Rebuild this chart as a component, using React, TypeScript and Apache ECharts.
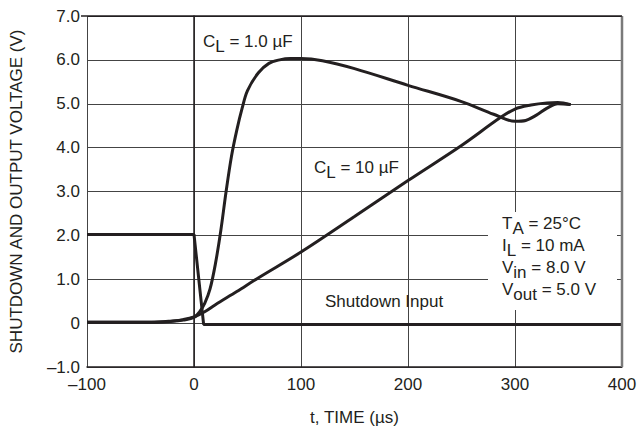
import React, { useEffect, useRef } from "react";
import * as echarts from "echarts";

// ---- data ----
const xTicks = [-100, 0, 100, 200, 300, 400];
const xTickLabels = ["–100", "0", "100", "200", "300", "400"];
const yTicks = [-1, 0, 1, 2, 3, 4, 5, 6, 7];
const yTickLabels = ["–1.0", "0", "1.0", "2.0", "3.0", "4.0", "5.0", "6.0", "7.0"];

const cl1Time = [-100, -40, -20, -10, 0, 5, 10, 15, 20, 25, 30, 35, 40, 45, 50, 60, 70, 80, 90, 100, 120, 150, 200, 250, 280, 300, 310, 320, 330, 340, 352];
const cl1Volt = [0.02, 0.02, 0.04, 0.07, 0.13, 0.25, 0.45, 0.78, 1.35, 2.1, 3.0, 3.8, 4.4, 4.9, 5.3, 5.7, 5.92, 6.0, 6.03, 6.03, 5.98, 5.8, 5.42, 5.05, 4.76, 4.6, 4.62, 4.74, 4.9, 5.0, 4.98];

const cl10Time = [-100, -40, -20, -10, 0, 10, 20, 40, 60, 100, 150, 200, 250, 286, 300, 315, 330, 340, 352];
const cl10Volt = [0.02, 0.02, 0.05, 0.08, 0.14, 0.26, 0.42, 0.72, 1.03, 1.62, 2.43, 3.25, 4.05, 4.68, 4.88, 4.97, 5.02, 5.03, 4.98];

const sdTime = [-100, 0, 9, 400];
const sdVolt = [2.02, 2.02, -0.03, -0.03];

const FONT = "'Liberation Sans', Arial, Helvetica, sans-serif";
const FS = 17;
const INK = "#231f20";
const GRID = { left: 81, top: 16, right: 20, bottom: 68 };
const W = 642;
const H = 435;

const zip = (a: number[], b: number[]) => a.map((t, i) => [t, b[i]]);

const rich = {
  n: { fontFamily: FONT, fontSize: FS, lineHeight: 15, verticalAlign: "top", fill: INK, color: INK },
  s: { fontFamily: FONT, fontSize: FS, lineHeight: 15, padding: [5, 0, 0, 0], verticalAlign: "top", fill: INK, color: INK },
};

function label(x: number, y: number, parts: [string, boolean][]) {
  return {
    type: "text",
    x,
    y,
    z: 10,
    style: {
      text: parts.map(([t, sub]) => `{${sub ? "s" : "n"}|${t}}`).join(""),
      rich,
      fill: INK,
      font: `${FS}px ${FONT}`,
    },
  };
}

export default function App() {
  const ref = useRef<HTMLDivElement>(null);
  useEffect(() => {
    if (!ref.current) return;
    const chart = echarts.init(ref.current, undefined, { renderer: "svg" });
    const lineStyle = { color: INK, width: 3 };
    const option: any = {
      animation: false,
      backgroundColor: "#fff",
      grid: { ...GRID, containLabel: false },
      xAxis: {
        type: "value",
        min: -100,
        max: 400,
        interval: 100,
        name: "t, TIME (µs)",
        nameLocation: "middle",
        nameGap: 42,
        nameTextStyle: { fontFamily: FONT, fontSize: FS, color: INK },
        axisLine: { show: true, onZero: false, lineStyle: { color: INK, width: 1.5 } },
        axisTick: { show: false },
        axisLabel: {
          fontFamily: FONT,
          fontSize: FS,
          color: INK,
          margin: 9,
          formatter: (v: number) => xTickLabels[xTicks.indexOf(v)] ?? "",
        },
        splitLine: { show: true, lineStyle: { color: ["#444", "#444", "#444", "#444", "#444", "#fff"], width: 1 } },
      },
      yAxis: {
        type: "value",
        min: -1,
        max: 7,
        interval: 1,
        name: "SHUTDOWN AND OUTPUT VOLTAGE (V)",
        nameLocation: "middle",
        nameGap: 62,
        nameTextStyle: { fontFamily: FONT, fontSize: FS, color: INK },
        axisLine: { show: true, lineStyle: { color: INK, width: 1.5 } },
        axisTick: { show: false },
        axisLabel: {
          fontFamily: FONT,
          fontSize: FS,
          color: INK,
          margin: 7,
          formatter: (v: number) => yTickLabels[yTicks.indexOf(v)] ?? "",
        },
        splitLine: {
          show: true,
          lineStyle: { color: ["#444", "#444", "#444", "#444", "#444", "#444", "#444", "#444", INK], width: 1 },
        },
      },
      series: [
        { name: "CL = 1.0 µF", type: "line", data: zip(cl1Time, cl1Volt), smooth: 0.35, showSymbol: false, lineStyle, z: 3 },
        { name: "CL = 10 µF", type: "line", data: zip(cl10Time, cl10Volt), smooth: 0.35, showSymbol: false, lineStyle, z: 3 },
        { name: "Shutdown Input", type: "line", data: zip(sdTime, sdVolt), smooth: false, showSymbol: false, lineStyle, z: 3 },
      ],
      graphic: [
        {
          type: "line",
          z: 5,
          shape: { x1: W - GRID.right, y1: GRID.top, x2: W - GRID.right, y2: H - GRID.bottom },
          style: { stroke: "#7a7a7a", lineWidth: 2.5 },
        },
        {
          type: "line",
          z: 5,
          shape: { x1: GRID.left, y1: GRID.top, x2: W - GRID.right, y2: GRID.top },
          style: { stroke: INK, lineWidth: 1.5 },
        },
        {
          type: "rect",
          z: 1,
          shape: { x: 488, y: 212, width: 129, height: 98 },
          style: { fill: "#fff" },
        },
        label(203, 33, [["C", false], ["L", true], [" = 1.0 µF", false]]),
        label(314, 159, [["C", false], ["L", true], [" = 10 µF", false]]),
        label(325, 293, [["Shutdown Input", false]]),
        label(502, 215, [["T", false], ["A", true], [" = 25°C", false]]),
        label(502, 237, [["I", false], ["L", true], [" = 10 mA", false]]),
        label(502, 259, [["V", false], ["in", true], [" = 8.0 V", false]]),
        label(502, 281, [["V", false], ["out", true], [" = 5.0 V", false]]),
      ],
    };
    chart.setOption(option);
    return () => chart.dispose();
  }, []);
  return <div ref={ref} style={{ position: "fixed", left: 0, top: 0, width: W, height: H }} />;
}
